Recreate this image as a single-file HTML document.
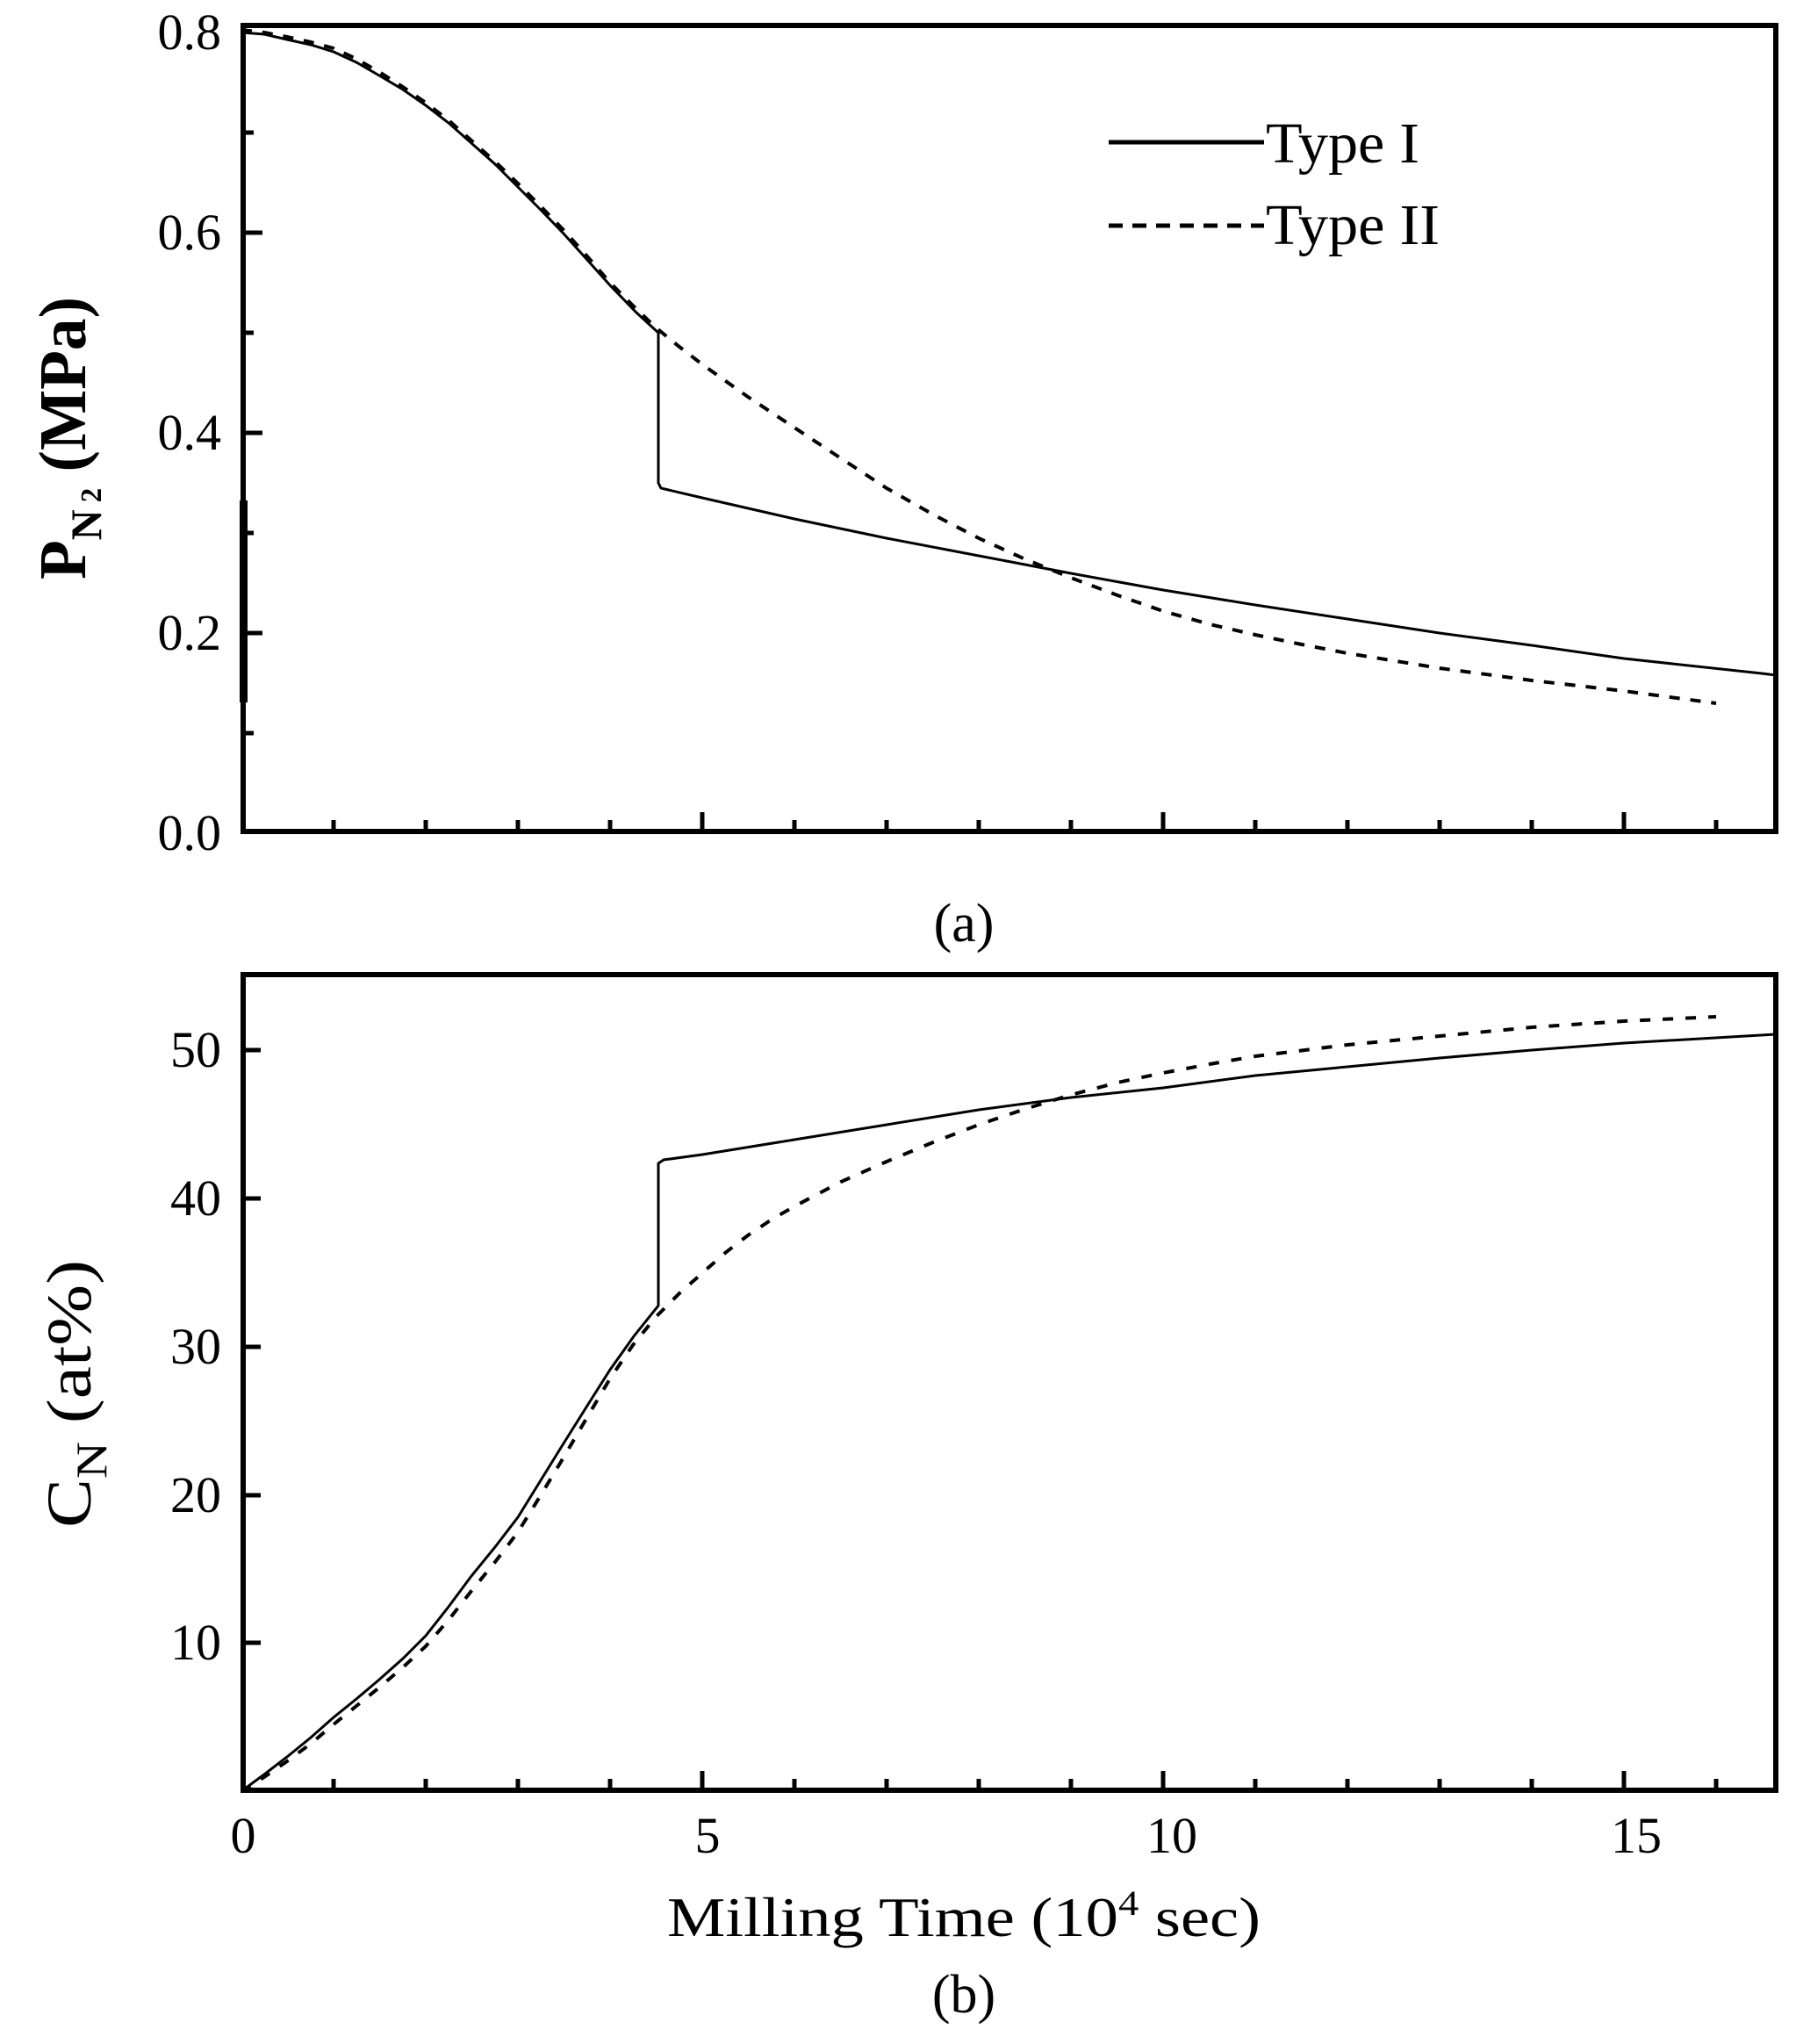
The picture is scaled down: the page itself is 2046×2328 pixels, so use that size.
<!DOCTYPE html>
<html><head><meta charset="utf-8"><style>
html,body{margin:0;padding:0;background:#fff;}
svg{display:block;}
text{font-family:"Liberation Serif",serif;fill:#000;}
</style></head><body>
<svg width="2046" height="2328" viewBox="0 0 2046 2328" xmlns="http://www.w3.org/2000/svg">
<rect width="2046" height="2328" fill="#fff"/>
<rect x="277" y="29" width="1746" height="918" fill="none" stroke="#000" stroke-width="6"/>
<rect x="273" y="570" width="9" height="230" fill="#000"/>
<rect x="277" y="1110" width="1746" height="929" fill="none" stroke="#000" stroke-width="6"/>
<g stroke="#000" stroke-width="5">
<path d="M380,947v-13M485,947v-13M590,947v-13M695,947v-13M800,947v-22M905,947v-13M1010,947v-13M1115,947v-13M1220,947v-13M1325,947v-22M1430,947v-13M1535,947v-13M1640,947v-13M1745,947v-13M1850,947v-22M1955,947v-13"/>
<path d="M380,2039v-13M485,2039v-13M590,2039v-13M695,2039v-13M800,2039v-22M905,2039v-13M1010,2039v-13M1115,2039v-13M1220,2039v-13M1325,2039v-22M1430,2039v-13M1535,2039v-13M1640,2039v-13M1745,2039v-13M1850,2039v-22M1955,2039v-13"/>
<path d="M277,835h12M277,721h22M277,607h12M277,493h22M277,379h12M277,265h22M277,151h12"/>
<path d="M277,1871h20M277,1703h20M277,1534h20M277,1365h20M277,1196h20"/>
</g>
<polyline fill="none" stroke="#000" stroke-width="3" points="275,37 301,39 327,45 354,51 380,59 406,71 432,86 459,102 485,120 511,140 537,163 564,187 590,213 616,239 642,266 669,296 695,325 725,356 750,379 750,550 753,556 800,567 905,591 1010,613 1115,633 1220,653 1325,672 1430,689 1535,705 1640,721 1745,735 1850,750 2007,767 2023,769"/>
<polyline fill="none" stroke="#000" stroke-width="4" stroke-dasharray="12 12" points="275,34 301,37 327,42 354,48 380,55 406,67 432,82 459,99 485,117 511,137 537,160 564,184 590,209 616,235 642,262 669,292 695,322 721,348 747,373 774,395 800,415 852,452 905,487 958,522 1010,556 1063,586 1115,613 1168,637 1220,658 1273,678 1325,696 1378,711 1430,723 1483,734 1535,744 1640,761 1745,775 1850,787 1955,801"/>
<polyline fill="none" stroke="#000" stroke-width="3" points="275,2040 301,2021 327,2001 354,1979 380,1956 406,1935 432,1913 459,1889 485,1863 511,1830 537,1795 564,1762 590,1728 616,1686 642,1644 669,1601 695,1560 722,1522 750,1487 750,1325 756,1321 800,1315 905,1298 1010,1281 1115,1264 1220,1250 1325,1239 1430,1225 1535,1215 1640,1205 1745,1196 1850,1188 2023,1178"/>
<polyline fill="none" stroke="#000" stroke-width="4" stroke-dasharray="12 14" points="275,2040 301,2024 327,2006 354,1986 380,1964 406,1943 432,1922 459,1899 485,1875 511,1845 537,1812 564,1779 590,1745 616,1703 642,1660 669,1614 695,1570 721,1532 747,1500 774,1473 800,1450 826,1427 852,1407 879,1389 905,1374 958,1346 1010,1323 1063,1301 1115,1281 1168,1263 1220,1247 1273,1233 1325,1222 1378,1212 1430,1203 1535,1190 1640,1180 1745,1170 1850,1163 1955,1158"/>
<g font-size="58" text-anchor="end">
<text x="252" y="56">0.8</text>
<text x="252" y="284">0.6</text>
<text x="252" y="512">0.4</text>
<text x="252" y="740">0.2</text>
<text x="252" y="968">0.0</text>
<text x="252" y="1215">50</text>
<text x="252" y="1384">40</text>
<text x="252" y="1553">30</text>
<text x="252" y="1722">20</text>
<text x="252" y="1890">10</text>
</g>
<g font-size="58" text-anchor="middle">
<text x="277" y="2110">0</text>
<text x="806" y="2110">5</text>
<text x="1335" y="2110">10</text>
<text x="1864" y="2110">15</text>
<text x="1098" y="1072" font-size="62">(a)</text>
<text x="1098" y="2292" font-size="62">(b)</text>
</g>
<text x="760" y="2205" font-size="64" textLength="676" lengthAdjust="spacingAndGlyphs">Milling Time (10<tspan font-size="40" dy="-24">4</tspan><tspan dy="24"> sec)</tspan></text>
<text transform="translate(97,660) rotate(-90)" font-size="76" font-weight="bold" textLength="322" lengthAdjust="spacingAndGlyphs">P<tspan font-size="50" dy="18">N</tspan><tspan font-size="34"> 2</tspan><tspan dy="-18"> (MPa)</tspan></text>
<text transform="translate(103,1740) rotate(-90)" font-size="72" textLength="305" lengthAdjust="spacingAndGlyphs">C<tspan font-size="50" dy="18">N</tspan><tspan dy="-18"> (at%)</tspan></text>
<line x1="1263" y1="162" x2="1440" y2="162" stroke="#000" stroke-width="5"/>
<line x1="1263" y1="257" x2="1440" y2="257" stroke="#000" stroke-width="5" stroke-dasharray="16 11"/>
<text x="1442" y="185" font-size="66" textLength="175" lengthAdjust="spacingAndGlyphs">Type I</text>
<text x="1442" y="278" font-size="66" textLength="198" lengthAdjust="spacingAndGlyphs">Type II</text>
</svg>
</body></html>
